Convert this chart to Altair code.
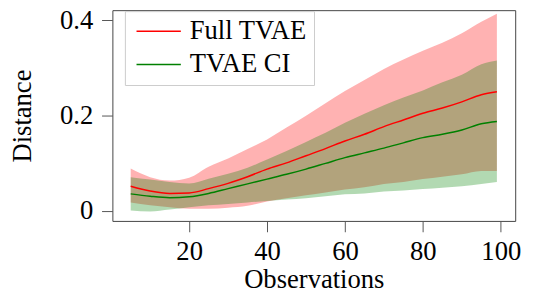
import altair as alt
import pandas as pd

# Observations (x)
obs = [5, 10, 15, 20, 25, 30, 35, 40, 45, 50, 55, 60, 65, 70, 75, 80, 85, 90, 95, 99]

# Full TVAE: mean and band
full_mean = [0.052, 0.042, 0.037, 0.038, 0.047, 0.058, 0.072, 0.088, 0.101, 0.116,
             0.131, 0.147, 0.161, 0.177, 0.191, 0.205, 0.216, 0.229, 0.244, 0.250]
full_lo = [0.018, 0.012, 0.008, 0.005, 0.005, 0.007, 0.011, 0.020, 0.027, 0.033,
           0.039, 0.045, 0.050, 0.057, 0.061, 0.067, 0.072, 0.077, 0.084, 0.084]
full_hi = [0.089, 0.071, 0.064, 0.070, 0.093, 0.110, 0.130, 0.150, 0.175, 0.200,
           0.226, 0.252, 0.275, 0.298, 0.318, 0.336, 0.353, 0.373, 0.397, 0.414]

# TVAE CI: mean and band
ci_mean = [0.036, 0.031, 0.028, 0.030, 0.037, 0.047, 0.057, 0.067, 0.077, 0.088,
           0.100, 0.112, 0.122, 0.132, 0.143, 0.154, 0.161, 0.170, 0.183, 0.188]
ci_lo = [0.001, -0.001, 0.003, 0.008, 0.012, 0.015, 0.018, 0.021, 0.024, 0.027,
         0.031, 0.035, 0.037, 0.041, 0.043, 0.046, 0.049, 0.052, 0.057, 0.061]
ci_hi = [0.071, 0.066, 0.061, 0.058, 0.068, 0.078, 0.091, 0.108, 0.126, 0.145,
         0.164, 0.185, 0.204, 0.222, 0.238, 0.253, 0.270, 0.286, 0.308, 0.316]

series = ["Full TVAE", "TVAE CI"]
colors = ["#ff0000", "#008000"]

rows = []
for i, x in enumerate(obs):
    rows.append({"x": x, "series": series[0], "mean": full_mean[i], "lo": full_lo[i], "hi": full_hi[i]})
for i, x in enumerate(obs):
    rows.append({"x": x, "series": series[1], "mean": ci_mean[i], "lo": ci_lo[i], "hi": ci_hi[i]})
df = pd.DataFrame(rows)

FONT = "Liberation Serif"

xscale = alt.Scale(domain=[0.3, 103.7], nice=False, zero=False)
yscale = alt.Scale(domain=[-0.0207, 0.4213], nice=False, zero=False)

xaxis = alt.Axis(values=[20, 40, 60, 80, 100], tickSize=11, tickColor="#555555", domain=False,
                 grid=False, labelFont=FONT, labelFontSize=27, labelColor="black", labelPadding=7,
                 title="Observations", titleFont=FONT, titleFontSize=27, titleFontWeight="normal",
                 titleColor="black", titlePadding=3)
yaxis = alt.Axis(values=[0, 0.2, 0.4], tickSize=11, tickColor="#555555", domain=False, grid=False,
                 labelExpr="datum.value == 0 ? '0' : format(datum.value, '.1f')",
                 labelFont=FONT, labelFontSize=27, labelColor="black", labelPadding=9,
                 title="Distance", titleFont=FONT, titleFontSize=27, titleFontWeight="normal",
                 titleColor="black", titlePadding=23)

base = alt.Chart(df)

bands = base.mark_area(fillOpacity=0.3, interpolate="monotone").encode(
    x=alt.X("x:Q", scale=xscale, axis=xaxis),
    y=alt.Y("lo:Q", scale=yscale, axis=yaxis),
    y2=alt.Y2("hi:Q"),
    color=alt.Color("series:N", scale=alt.Scale(domain=series, range=colors), legend=None),
)

lines = base.mark_line(strokeWidth=1.5, interpolate="monotone").encode(
    x=alt.X("x:Q", scale=xscale),
    y=alt.Y("mean:Q", scale=yscale),
    color=alt.Color("series:N", scale=alt.Scale(domain=series, range=colors),
                    legend=alt.Legend(orient="none", legendX=12.7, legendY=1, title=None,
                                      symbolType="M-2.25,0H2.25", symbolSize=400,
                                      symbolOffset=13.8, symbolStrokeWidth=1.5,
                                      labelFont=FONT, labelFontSize=27, labelColor="black",
                                      labelOffset=18, padding=7, rowPadding=5.6,
                                      strokeColor="#cccccc", fillColor="white",
                                      cornerRadius=0)),
)

chart = alt.layer(bands, lines).resolve_scale(color="independent").resolve_legend(
    color="independent"
).properties(
    width=409, height=214,
    autosize=alt.AutoSizeParams(type="none"),
    padding={"left": 106, "top": 0, "right": 13, "bottom": 72},
).configure_view(stroke="#444444", strokeWidth=1)

chart.save("out.html", embed_options={"renderer": "svg", "actions": False})
